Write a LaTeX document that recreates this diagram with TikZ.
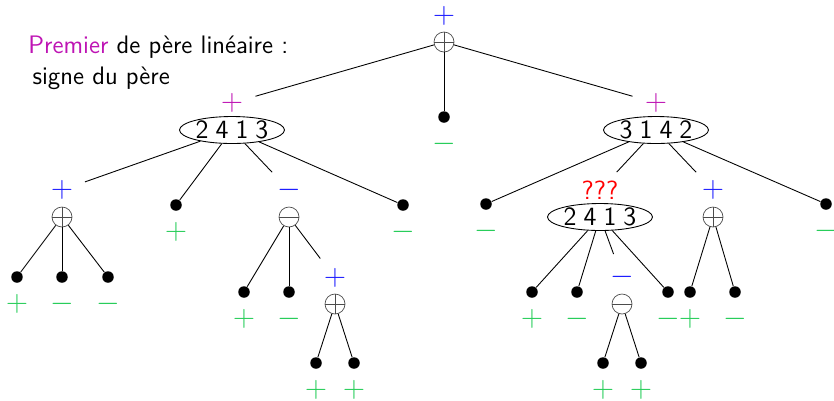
\documentclass[tikz,border=0pt]{standalone}
\usepackage{xcolor}
\usepackage{tikz}
\usetikzlibrary{positioning,shapes.geometric}
\definecolor{sgblue}{RGB}{30,30,255}
\definecolor{sgmag}{RGB}{190,20,180}
\definecolor{sggreen}{RGB}{40,205,90}
\newcommand{\pgap}{\hspace{4pt}}

\begin{document}
\begin{tikzpicture}[x=0.02cm, y=-0.02cm,
  font=\Large\sffamily, line width=0.5pt,
  lf/.style={circle, fill=black, inner sep=0pt, minimum size=2.3mm},
  opl/.style={circle, draw=black!70, line width=0.4pt, inner sep=0pt, minimum size=4mm,
              path picture={\draw[black!70] (path picture bounding box.north) -- (path picture bounding box.south)
                            (path picture bounding box.west) -- (path picture bounding box.east);}},
  omn/.style={circle, draw=black!70, line width=0.4pt, inner sep=0pt, minimum size=4mm,
              path picture={\draw[black!70] (path picture bounding box.west) -- (path picture bounding box.east);}},
  perm/.style={ellipse, draw, inner sep=0pt, minimum width=21mm, minimum height=5.4mm,
               font=\fontsize{15}{18}\selectfont\sffamily},
  sg/.style={circle, inner sep=0pt, minimum size=9.6mm,
             font=\fontsize{16.5}{20}\selectfont\sffamily}]
\useasboundingbox (0,0) rectangle (834,400);
\node[anchor=north west, align=left, inner sep=0pt] (ti) at (28,35)
  {\textcolor{sgmag}{Premier} de père linéaire :\\\,signe du père};
% inner nodes
\node[opl] (r) at (444,42) {};
\node[sg, text=sgblue] (rs) at (444,16) {$+$};
\node[perm] (a) at (232,130) {2\pgap4\pgap1\pgap3};
\node[sg, text=sgmag] (as) at (232,103) {$+$};
\node[perm] (b) at (656,130) {3\pgap1\pgap4\pgap2};
\node[sg, text=sgmag] (bs) at (656,103) {$+$};
\node[opl] (a1) at (62,217) {};
\node[sg, text=sgblue] (a1s) at (62,190) {$+$};
\node[omn] (a3) at (289,217) {};
\node[sg, text=sgblue] (a3s) at (289,190) {$-$};
\node[opl] (a33) at (335,304) {};
\node[sg, text=sgblue] (a33s) at (335,278) {$+$};
\node[perm] (b2) at (600,217) {2\pgap4\pgap1\pgap3};
\node[sg, text=red, font=\fontsize{15}{18}\selectfont\sffamily] (b2s) at (600,190) {???};
\node[opl] (b3) at (713,217) {};
\node[sg, text=sgblue] (b3s) at (713,190) {$+$};
\node[omn] (b23) at (622,304) {};
\node[sg, text=sgblue] (b23s) at (622,277) {$-$};
% leaves
\foreach \n/\x/\y/\s in {r2/444/117/-, a2/176/205/+, a4/403/205/-,
    a11/17/277/+, a12/62/277/-, a13/108/277/-, a31/244/292/+, a32/289/292/-,
    a331/316/363/+, a332/354/363/+, b1/486/204/-, b4/826/204/-,
    b21/532/292/+, b22/577/292/-, b24/668/292/-, b231/603/363/+, b232/641/363/+,
    b31/690/292/+, b32/735/292/-}
  {\node[lf] (\n) at (\x,\y) {};
   \node[sg, text=sggreen] (\n s) at (\x,\y+27) {$\s$};}
\foreach \a/\b in {r/as, r/r2, r/bs, a/a1s, a/a2, a/a3s, a/a4, a1/a11, a1/a12, a1/a13,
    a3/a31, a3/a32, a3/a33s, a33/a331, a33/a332, b/b1, b/b2s, b/b3s, b/b4,
    b2/b21, b2/b22, b2/b23s, b2/b24, b23/b231, b23/b232, b3/b31, b3/b32}
  \draw (\a) -- (\b);
\end{tikzpicture}
\end{document}
